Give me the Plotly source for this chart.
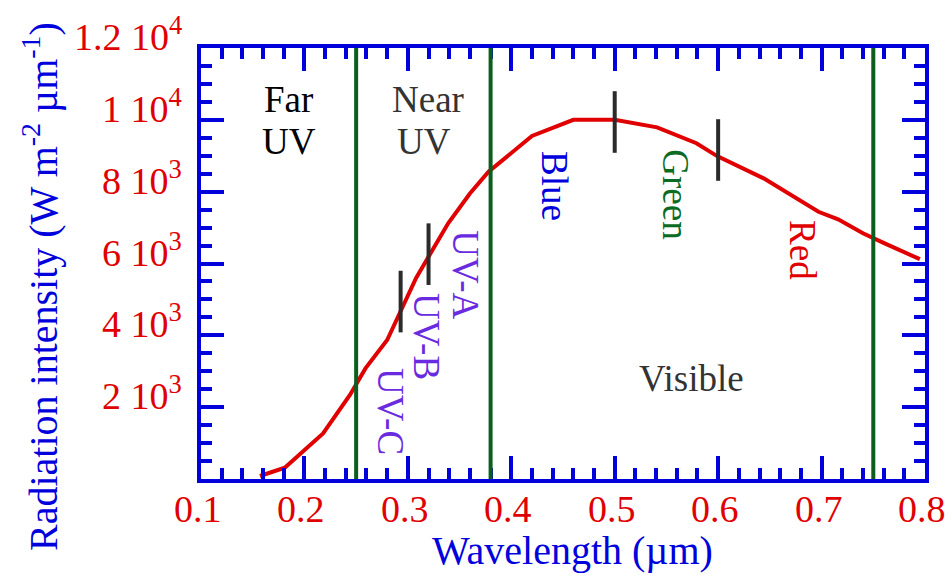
import plotly.graph_objects as go

# ---- data ----
wavelength = [0.157, 0.181, 0.218, 0.244, 0.259, 0.280, 0.308, 0.320, 0.339, 0.360,
              0.378, 0.420, 0.460, 0.500, 0.541, 0.579, 0.599, 0.644, 0.697, 0.716,
              0.740, 0.761, 0.795]
intensity = [84, 315, 1270, 2340, 3080, 3870, 5600, 6190, 7120, 7950,
             8555, 9550, 10000, 10000, 9790, 9350, 8990, 8370, 7440, 7230,
             6840, 6560, 6120]

boundary_x = [0.25, 0.38, 0.75]

band_marker_x = [0.293, 0.320, 0.500, 0.600]
band_marker_y = [4940, 6260, 9940, 9160]

y_tickvals = [2000, 4000, 6000, 8000, 10000, 12000]
y_ticktext = ["2 10<sup>3</sup>", "4 10<sup>3</sup>", "6 10<sup>3</sup>",
              "8 10<sup>3</sup>", "1 10<sup>4</sup>", "1.2 10<sup>4</sup>"]
x_tickvals = [0.1, 0.2, 0.3, 0.4, 0.5, 0.6, 0.7, 0.8]
x_ticktext = ["0.1", "0.2", "0.3", "0.4", "0.5", "0.6", "0.7", "0.8"]

# ---- styles ----
FONT = "Liberation Serif"
BLUE = "#0000dd"
RED = "#e00000"
GREEN = "#0b5e1e"
PURPLE = "#6a2be0"
DARK = "#2b2b2b"

fig = go.Figure()

for bx in boundary_x:
    fig.add_vline(x=bx, line=dict(color=GREEN, width=4), layer="above")

fig.add_trace(go.Scatter(x=wavelength, y=intensity, mode="lines",
                         line=dict(color=RED, width=4), hoverinfo="skip"))

fig.add_trace(go.Scatter(x=band_marker_x, y=band_marker_y, mode="markers",
                         marker=dict(symbol="line-ns", size=44,
                                     line=dict(color=DARK, width=4)),
                         hoverinfo="skip"))

labels = [
    ("Far", 0.185, 10579, "black", 0),
    ("UV", 0.185, 9410, "black", 0),
    ("Near", 0.319, 10579, "#333333", 0),
    ("UV", 0.3156, 9410, "#333333", 0),
    ("UV-C", 0.2837, 1893, PURPLE, 90),
    ("UV-B", 0.3185, 3953, PURPLE, 90),
    ("UV-A", 0.356, 5679, PURPLE, 90),
    ("Blue", 0.4423, 8157, BLUE, 90),
    ("Green", 0.559, 7934, "#0b6b23", 90),
    ("Red", 0.682, 6375, RED, 90),
    ("Visible", 0.5747, 2812, "#333333", 0),
]
for txt, lx, ly, col, ang in labels:
    fig.add_annotation(x=lx, y=ly, xref="x", yref="y", text=txt, showarrow=False,
                       textangle=ang, font=dict(family=FONT, size=37, color=col),
                       xanchor="center", yanchor="middle")

# tick labels (placed like the original: numbers sit slightly above their ticks)
tick_font = dict(family=FONT, size=38, color=RED)
for v, t in zip(y_tickvals, y_ticktext):
    fig.add_annotation(xref="paper", yref="y", x=0, y=v, text=t, showarrow=False,
                       xanchor="right", yanchor="middle", xshift=-17, yshift=14,
                       font=tick_font)
PW, PH = 724, 431
for v, t in zip(x_tickvals, x_ticktext):
    fig.add_annotation(xref="x", yref="paper", x=v, y=(479 - 509) / PH, text=t,
                       showarrow=False, xanchor="center", yanchor="middle",
                       xshift=-3, font=tick_font)

fig.add_annotation(xref="paper", yref="paper", x=(572 - 201) / PW, y=(479 - 550) / PH,
                   text="Wavelength (µm)", showarrow=False,
                   font=dict(family=FONT, size=40, color=BLUE),
                   xanchor="center", yanchor="middle")
fig.add_annotation(xref="paper", yref="paper", x=(40 - 201) / PW, y=(479 - 287) / PH,
                   text="Radiation intensity (W m<sup>-2</sup> µm<sup>-1</sup>)",
                   showarrow=False, textangle=-90,
                   font=dict(family=FONT, size=40, color=BLUE),
                   xanchor="center", yanchor="middle")

axis_common = dict(showline=True, linecolor=BLUE, linewidth=4, mirror="ticks",
                   ticks="inside", tickcolor=BLUE, tickwidth=4, ticklen=23,
                   showgrid=False, zeroline=False, automargin=False,
                   showticklabels=False)

fig.update_xaxes(range=[0.1, 0.8], tickvals=x_tickvals,
                 minor=dict(ticks="inside", dtick=0.02, tick0=0.1, ticklen=11,
                            tickwidth=4, tickcolor=BLUE, showgrid=False),
                 **axis_common)
fig.update_yaxes(range=[0, 12000], tickvals=[0] + y_tickvals,
                 minor=dict(ticks="inside", dtick=500, tick0=0, ticklen=11,
                            tickwidth=4, tickcolor=BLUE, showgrid=False),
                 **axis_common)

fig.update_layout(width=952, height=579, showlegend=False,
                  margin=dict(l=201, r=27, t=48, b=100, autoexpand=False),
                  plot_bgcolor="white", paper_bgcolor="white",
                  font=dict(family=FONT))

fig.write_html("out.html", config={"displayModeBar": False},
               post_script="document.body.style.margin='0px';")
